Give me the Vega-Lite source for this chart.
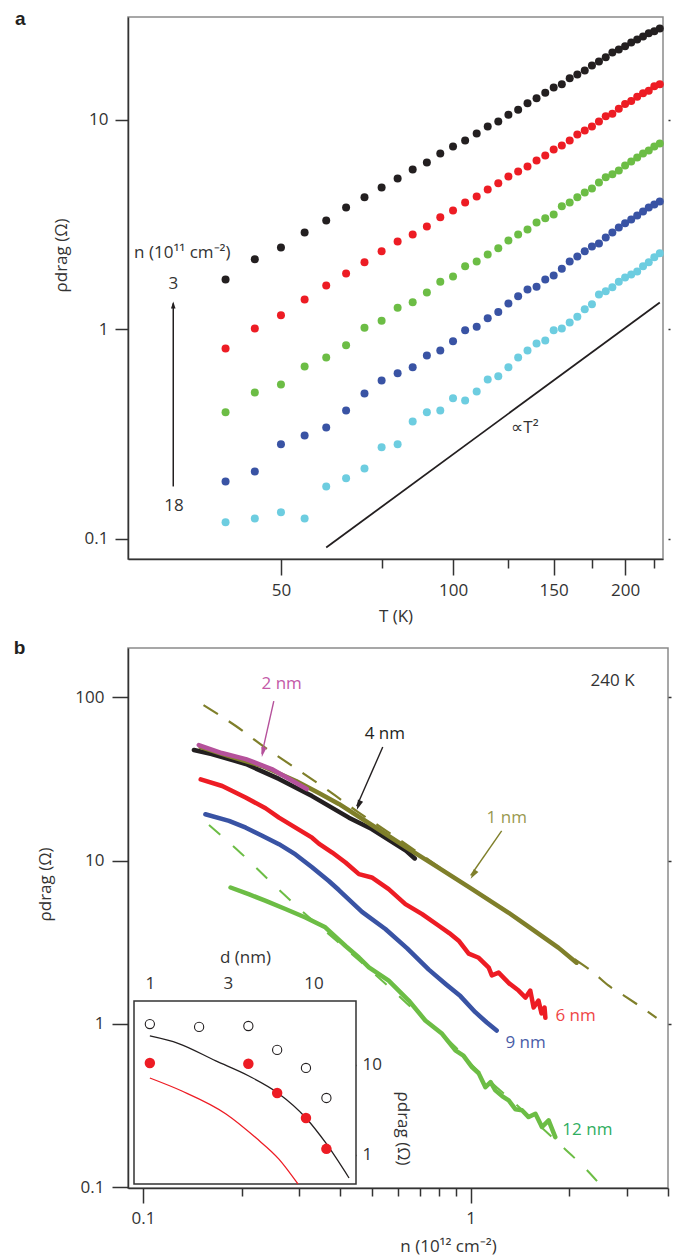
{
  "$schema": "https://vega.github.io/schema/vega-lite/v6.json",
  "background": "white",
  "padding": {"left": 13, "top": 9, "right": 0, "bottom": 0},
  "spacing": 13,
  "config": {
    "font": "Open Sans",
    "view": {"stroke": "#8a8a8a", "strokeWidth": 1.5},
    "axis": {
      "labelFont": "Open Sans", "labelFontSize": 17, "labelColor": "#333333",
      "titleFont": "Open Sans", "titleFontSize": 17, "titleFontWeight": "normal", "titleColor": "#333333",
      "domainColor": "#333333", "domainWidth": 1.5, "tickColor": "#333333", "tickWidth": 1.5,
      "grid": false, "labelOverlap": false, "labelFlush": false, "format": "~g"
    }
  },
  "datasets": {
    "a_points": [
      {"s":"k","T":40,"rho":1.73},{"s":"k","T":45,"rho":2.16},{"s":"k","T":50,"rho":2.46},{"s":"k","T":55,"rho":2.9},{"s":"k","T":60,"rho":3.31},{"s":"k","T":65,"rho":3.82},{"s":"k","T":70,"rho":4.27},{"s":"k","T":75,"rho":4.76},{"s":"k","T":80,"rho":5.26},{"s":"k","T":85,"rho":5.8},{"s":"k","T":90,"rho":6.27},{"s":"k","T":95,"rho":6.92},{"s":"k","T":100,"rho":7.47},{"s":"k","T":105,"rho":7.98},{"s":"k","T":110,"rho":8.62},{"s":"k","T":115,"rho":9.31},{"s":"k","T":120,"rho":9.84},{"s":"k","T":125,"rho":10.6},{"s":"k","T":130,"rho":11.2},{"s":"k","T":135,"rho":12.0},{"s":"k","T":140,"rho":12.7},{"s":"k","T":145,"rho":13.5},{"s":"k","T":150,"rho":14.3},{"s":"k","T":155,"rho":14.8},{"s":"k","T":160,"rho":15.8},{"s":"k","T":165,"rho":16.5},{"s":"k","T":170,"rho":17.2},{"s":"k","T":175,"rho":18.2},{"s":"k","T":180,"rho":19.0},{"s":"k","T":185,"rho":19.9},{"s":"k","T":190,"rho":21.0},{"s":"k","T":195,"rho":21.7},{"s":"k","T":200,"rho":22.5},{"s":"k","T":205,"rho":23.4},{"s":"k","T":210,"rho":24.2},{"s":"k","T":215,"rho":25.0},{"s":"k","T":220,"rho":25.9},{"s":"k","T":225,"rho":26.5},{"s":"k","T":230,"rho":27.3},
      {"s":"r","T":40,"rho":0.81},{"s":"r","T":45,"rho":1.01},{"s":"r","T":50,"rho":1.17},{"s":"r","T":55,"rho":1.39},{"s":"r","T":60,"rho":1.62},{"s":"r","T":65,"rho":1.85},{"s":"r","T":70,"rho":2.09},{"s":"r","T":75,"rho":2.36},{"s":"r","T":80,"rho":2.63},{"s":"r","T":85,"rho":2.84},{"s":"r","T":90,"rho":3.1},{"s":"r","T":95,"rho":3.43},{"s":"r","T":100,"rho":3.7},{"s":"r","T":105,"rho":4.04},{"s":"r","T":110,"rho":4.31},{"s":"r","T":115,"rho":4.66},{"s":"r","T":120,"rho":4.98},{"s":"r","T":125,"rho":5.37},{"s":"r","T":130,"rho":5.68},{"s":"r","T":135,"rho":6.0},{"s":"r","T":140,"rho":6.41},{"s":"r","T":145,"rho":6.77},{"s":"r","T":150,"rho":7.23},{"s":"r","T":155,"rho":7.55},{"s":"r","T":160,"rho":7.98},{"s":"r","T":165,"rho":8.53},{"s":"r","T":170,"rho":8.91},{"s":"r","T":175,"rho":9.31},{"s":"r","T":180,"rho":9.84},{"s":"r","T":185,"rho":10.4},{"s":"r","T":190,"rho":10.7},{"s":"r","T":195,"rho":11.3},{"s":"r","T":200,"rho":11.9},{"s":"r","T":205,"rho":12.3},{"s":"r","T":210,"rho":12.9},{"s":"r","T":215,"rho":13.4},{"s":"r","T":220,"rho":13.8},{"s":"r","T":225,"rho":14.5},{"s":"r","T":230,"rho":14.8},
      {"s":"g","T":40,"rho":0.402},{"s":"g","T":45,"rho":0.5},{"s":"g","T":50,"rho":0.546},{"s":"g","T":55,"rho":0.666},{"s":"g","T":60,"rho":0.735},{"s":"g","T":65,"rho":0.84},{"s":"g","T":70,"rho":1.02},{"s":"g","T":75,"rho":1.1},{"s":"g","T":80,"rho":1.27},{"s":"g","T":85,"rho":1.35},{"s":"g","T":90,"rho":1.5},{"s":"g","T":95,"rho":1.69},{"s":"g","T":100,"rho":1.79},{"s":"g","T":105,"rho":2.0},{"s":"g","T":110,"rho":2.11},{"s":"g","T":115,"rho":2.28},{"s":"g","T":120,"rho":2.44},{"s":"g","T":125,"rho":2.66},{"s":"g","T":130,"rho":2.84},{"s":"g","T":135,"rho":3.0},{"s":"g","T":140,"rho":3.24},{"s":"g","T":145,"rho":3.39},{"s":"g","T":150,"rho":3.54},{"s":"g","T":155,"rho":3.87},{"s":"g","T":160,"rho":4.04},{"s":"g","T":165,"rho":4.27},{"s":"g","T":170,"rho":4.51},{"s":"g","T":175,"rho":4.71},{"s":"g","T":180,"rho":5.03},{"s":"g","T":185,"rho":5.32},{"s":"g","T":190,"rho":5.5},{"s":"g","T":195,"rho":5.74},{"s":"g","T":200,"rho":6.06},{"s":"g","T":205,"rho":6.34},{"s":"g","T":210,"rho":6.62},{"s":"g","T":215,"rho":6.92},{"s":"g","T":220,"rho":7.15},{"s":"g","T":225,"rho":7.47},{"s":"g","T":230,"rho":7.72},
      {"s":"b","T":40,"rho":0.188},{"s":"b","T":45,"rho":0.21},{"s":"b","T":50,"rho":0.283},{"s":"b","T":55,"rho":0.312},{"s":"b","T":60,"rho":0.34},{"s":"b","T":65,"rho":0.41},{"s":"b","T":70,"rho":0.495},{"s":"b","T":75,"rho":0.571},{"s":"b","T":80,"rho":0.617},{"s":"b","T":85,"rho":0.659},{"s":"b","T":90,"rho":0.751},{"s":"b","T":95,"rho":0.794},{"s":"b","T":100,"rho":0.877},{"s":"b","T":105,"rho":0.99},{"s":"b","T":110,"rho":1.03},{"s":"b","T":115,"rho":1.13},{"s":"b","T":120,"rho":1.21},{"s":"b","T":125,"rho":1.33},{"s":"b","T":130,"rho":1.44},{"s":"b","T":135,"rho":1.55},{"s":"b","T":140,"rho":1.6},{"s":"b","T":145,"rho":1.73},{"s":"b","T":150,"rho":1.81},{"s":"b","T":155,"rho":1.95},{"s":"b","T":160,"rho":2.11},{"s":"b","T":165,"rho":2.23},{"s":"b","T":170,"rho":2.36},{"s":"b","T":175,"rho":2.49},{"s":"b","T":180,"rho":2.57},{"s":"b","T":185,"rho":2.75},{"s":"b","T":190,"rho":2.9},{"s":"b","T":195,"rho":3.07},{"s":"b","T":200,"rho":3.21},{"s":"b","T":205,"rho":3.35},{"s":"b","T":210,"rho":3.5},{"s":"b","T":215,"rho":3.66},{"s":"b","T":220,"rho":3.82},{"s":"b","T":225,"rho":3.95},{"s":"b","T":230,"rho":4.08},
      {"s":"c","T":40,"rho":0.12},{"s":"c","T":45,"rho":0.125},{"s":"c","T":50,"rho":0.134},{"s":"c","T":55,"rho":0.125},{"s":"c","T":60,"rho":0.178},{"s":"c","T":65,"rho":0.195},{"s":"c","T":70,"rho":0.217},{"s":"c","T":75,"rho":0.274},{"s":"c","T":80,"rho":0.283},{"s":"c","T":85,"rho":0.364},{"s":"c","T":90,"rho":0.402},{"s":"c","T":95,"rho":0.41},{"s":"c","T":100,"rho":0.469},{"s":"c","T":105,"rho":0.458},{"s":"c","T":110,"rho":0.506},{"s":"c","T":115,"rho":0.577},{"s":"c","T":120,"rho":0.597},{"s":"c","T":125,"rho":0.659},{"s":"c","T":130,"rho":0.735},{"s":"c","T":135,"rho":0.794},{"s":"c","T":140,"rho":0.857},{"s":"c","T":145,"rho":0.886},{"s":"c","T":150,"rho":0.99},{"s":"c","T":155,"rho":1.01},{"s":"c","T":160,"rho":1.08},{"s":"c","T":165,"rho":1.15},{"s":"c","T":170,"rho":1.25},{"s":"c","T":175,"rho":1.32},{"s":"c","T":180,"rho":1.47},{"s":"c","T":185,"rho":1.52},{"s":"c","T":190,"rho":1.59},{"s":"c","T":195,"rho":1.69},{"s":"c","T":200,"rho":1.77},{"s":"c","T":205,"rho":1.83},{"s":"c","T":210,"rho":1.89},{"s":"c","T":215,"rho":2.0},{"s":"c","T":220,"rho":2.09},{"s":"c","T":225,"rho":2.21},{"s":"c","T":230,"rho":2.31}
    ],
    "a_line": [{"T":60,"rho":0.091},{"T":230,"rho":1.345}],
    "a_text": [
      {"T":33.6,"rho":2.31,"t":"n (10¹¹ cm⁻²)"},
      {"T":32.4,"rho":1.64,"t":"3"},
      {"T":32.5,"rho":0.143,"t":"18"},
      {"T":133.6,"rho":0.34,"t":"∝T²"}
    ],
    "a_arrow": [{"T":32.4,"rho":0.178,"rho2":1.33}],
    "a_head": [{"T":32.4,"rho":1.309}],
    "b_curves": [
      {"d":"4 nm","n":0.143,"rho":47.5},{"d":"4 nm","n":0.162,"rho":44.9},{"d":"4 nm","n":0.206,"rho":39.0},{"d":"4 nm","n":0.26,"rho":31.6},{"d":"4 nm","n":0.328,"rho":24.8},{"d":"4 nm","n":0.425,"rho":18.3},{"d":"4 nm","n":0.499,"rho":15.6},{"d":"4 nm","n":0.634,"rho":11.5},{"d":"4 nm","n":0.675,"rho":10.3},
      {"d":"1 nm","n":0.15,"rho":49.5},{"d":"1 nm","n":0.183,"rho":43.6},{"d":"1 nm","n":0.231,"rho":37.9},{"d":"1 nm","n":0.293,"rho":30.7},{"d":"1 nm","n":0.344,"rho":25.9},{"d":"1 nm","n":0.396,"rho":22.2},{"d":"1 nm","n":0.499,"rho":16.5},{"d":"1 nm","n":0.634,"rho":12.1},{"d":"1 nm","n":0.799,"rho":9.03},{"d":"1 nm","n":1.007,"rho":6.71},{"d":"1 nm","n":1.306,"rho":4.79},{"d":"1 nm","n":1.471,"rho":4.05},{"d":"1 nm","n":1.855,"rho":2.92},{"d":"1 nm","n":2.104,"rho":2.37},
      {"d":"6 nm","n":0.15,"rho":31.4},{"d":"6 nm","n":0.1745,"rho":28.6},{"d":"6 nm","n":0.2056,"rho":24.3},{"d":"6 nm","n":0.2366,"rho":20.9},{"d":"6 nm","n":0.26,"rho":18.3},{"d":"6 nm","n":0.292,"rho":15.9},{"d":"6 nm","n":0.328,"rho":13.8},{"d":"6 nm","n":0.344,"rho":12.7},{"d":"6 nm","n":0.378,"rho":11.2},{"d":"6 nm","n":0.415,"rho":9.72},{"d":"6 nm","n":0.456,"rho":8.26},{"d":"6 nm","n":0.499,"rho":7.88},{"d":"6 nm","n":0.562,"rho":6.69},{"d":"6 nm","n":0.632,"rho":5.41},{"d":"6 nm","n":0.711,"rho":4.7},{"d":"6 nm","n":0.799,"rho":3.99},{"d":"6 nm","n":0.86,"rho":3.6},{"d":"6 nm","n":0.919,"rho":3.23},{"d":"6 nm","n":0.986,"rho":2.69},{"d":"6 nm","n":1.058,"rho":2.54},{"d":"6 nm","n":1.135,"rho":2.21},{"d":"6 nm","n":1.16,"rho":1.98},{"d":"6 nm","n":1.217,"rho":2.06},{"d":"6 nm","n":1.31,"rho":1.77},{"d":"6 nm","n":1.4,"rho":1.6},{"d":"6 nm","n":1.47,"rho":1.45},{"d":"6 nm","n":1.52,"rho":1.6},{"d":"6 nm","n":1.556,"rho":1.26},{"d":"6 nm","n":1.61,"rho":1.39},{"d":"6 nm","n":1.645,"rho":1.16},{"d":"6 nm","n":1.68,"rho":1.26},{"d":"6 nm","n":1.69,"rho":1.09},
      {"d":"9 nm","n":0.155,"rho":19.2},{"d":"9 nm","n":0.183,"rho":17.5},{"d":"9 nm","n":0.206,"rho":15.9},{"d":"9 nm","n":0.231,"rho":14.2},{"d":"9 nm","n":0.26,"rho":12.6},{"d":"9 nm","n":0.292,"rho":10.9},{"d":"9 nm","n":0.328,"rho":9.1},{"d":"9 nm","n":0.369,"rho":7.5},{"d":"9 nm","n":0.396,"rho":6.6},{"d":"9 nm","n":0.466,"rho":4.85},{"d":"9 nm","n":0.549,"rho":3.81},{"d":"9 nm","n":0.64,"rho":2.9},{"d":"9 nm","n":0.745,"rho":2.15},{"d":"9 nm","n":0.84,"rho":1.75},{"d":"9 nm","n":0.93,"rho":1.48},{"d":"9 nm","n":1.033,"rho":1.18},{"d":"9 nm","n":1.12,"rho":1.02},{"d":"9 nm","n":1.2,"rho":0.91},
      {"d":"12 nm","n":0.185,"rho":6.84},{"d":"12 nm","n":0.211,"rho":6.2},{"d":"12 nm","n":0.237,"rho":5.67},{"d":"12 nm","n":0.272,"rho":5.05},{"d":"12 nm","n":0.313,"rho":4.48},{"d":"12 nm","n":0.36,"rho":3.9},{"d":"12 nm","n":0.415,"rho":3.0},{"d":"12 nm","n":0.456,"rho":2.55},{"d":"12 nm","n":0.489,"rho":2.22},{"d":"12 nm","n":0.562,"rho":1.84},{"d":"12 nm","n":0.647,"rho":1.39},{"d":"12 nm","n":0.727,"rho":1.05},{"d":"12 nm","n":0.818,"rho":0.87},{"d":"12 nm","n":0.898,"rho":0.688},{"d":"12 nm","n":0.95,"rho":0.64},{"d":"12 nm","n":1.009,"rho":0.544},{"d":"12 nm","n":1.058,"rho":0.498},{"d":"12 nm","n":1.109,"rho":0.41},{"d":"12 nm","n":1.15,"rho":0.44},{"d":"12 nm","n":1.189,"rho":0.392},{"d":"12 nm","n":1.25,"rho":0.36},{"d":"12 nm","n":1.306,"rho":0.34},{"d":"12 nm","n":1.37,"rho":0.3},{"d":"12 nm","n":1.434,"rho":0.296},{"d":"12 nm","n":1.502,"rho":0.269},{"d":"12 nm","n":1.576,"rho":0.282},{"d":"12 nm","n":1.65,"rho":0.234},{"d":"12 nm","n":1.729,"rho":0.257},{"d":"12 nm","n":1.812,"rho":0.203}
    ],
    "b_mag": [{"n":0.148,"rho":50.9},{"n":0.174,"rho":45.5},{"n":0.206,"rho":41.8},{"n":0.247,"rho":36.3},{"n":0.316,"rho":27.4}],
    "b_olive_th": [{"n":0.153,"rho":89.4},{"n":0.192,"rho":66.6},{"n":0.237,"rho":48.8},{"n":0.295,"rho":36.3},{"n":0.369,"rho":26.7},{"n":0.45,"rho":20.0},{"n":0.55,"rho":15.3},{"n":0.7,"rho":11.0},{"n":0.85,"rho":8.4},{"n":1.0,"rho":6.8},{"n":1.2,"rho":5.4},{"n":1.5,"rho":3.95},{"n":1.8,"rho":3.05},{"n":2.1,"rho":2.45},{"n":2.37,"rho":2.06},{"n":2.63,"rho":1.72},{"n":3.0,"rho":1.45},{"n":3.69,"rho":1.09}],
    "b_green_th": [{"n":0.159,"rho":16.5},{"n":0.199,"rho":11.1},{"n":0.247,"rho":7.31},{"n":0.305,"rho":4.93},{"n":0.36,"rho":3.7},{"n":0.456,"rho":2.45},{"n":0.56,"rho":1.7},{"n":0.727,"rho":1.05},{"n":0.9,"rho":0.72},{"n":1.009,"rho":0.56},{"n":1.2,"rho":0.41},{"n":1.5,"rho":0.275},{"n":1.81,"rho":0.195},{"n":1.96,"rho":0.168},{"n":2.2,"rho":0.135},{"n":2.46,"rho":0.106}],
    "b_text": [
      {"n":0.265,"rho":120,"t":"2 nm"},{"n":0.547,"rho":59.4,"t":"4 nm"},{"n":1.288,"rho":18.2,"t":"1 nm"},{"n":2.71,"rho":125,"t":"240 K"},{"n":2.09,"rho":1.125,"t":"6 nm"},{"n":1.47,"rho":0.759,"t":"9 nm"},{"n":2.27,"rho":0.2234,"t":"12 nm"}
    ],
    "b_arrows": [
      {"a":"m","n":0.2507,"rho":94.5,"n2":0.2306,"rho2":45.0},
      {"a":"k","n":0.539,"rho":49.5,"n2":0.449,"rho2":21.5},
      {"a":"o","n":1.243,"rho":15.2,"n2":1.0,"rho2":8.1}
    ],
    "b_heads": [{"a":"m","n":0.2322,"rho":46.1},{"a":"k","n":0.455,"rho":21.8},{"a":"o","n":1.019,"rho":8.2}],
    "inset_box": [{"d1":0.8,"d2":18.2,"r1":0.476,"r2":51.4}],
    "inset_pts": [
      {"k":"open","d":1,"rho":28.5},{"k":"open","d":2,"rho":26.5},{"k":"open","d":4,"rho":27.1},{"k":"open","d":6,"rho":14.7},{"k":"open","d":9,"rho":9.27},{"k":"open","d":12,"rho":4.3},
      {"k":"filled","d":1,"rho":10.5},{"k":"filled","d":4,"rho":10.3},{"k":"filled","d":6,"rho":4.89},{"k":"filled","d":9,"rho":2.58},{"k":"filled","d":12,"rho":1.17}
    ],
    "inset_curves": [
      {"k":"open","d":1,"rho":21.0},{"k":"open","d":1.5,"rho":17.3},{"k":"open","d":2.53,"rho":11.1},{"k":"open","d":4.03,"rho":7.55},{"k":"open","d":6.06,"rho":4.89},{"k":"open","d":9.0,"rho":2.58},{"k":"open","d":11.9,"rho":1.36},{"k":"open","d":16.5,"rho":0.555},
      {"k":"filled","d":1,"rho":7.17},{"k":"filled","d":1.57,"rho":5.14},{"k":"filled","d":2.92,"rho":2.86},{"k":"filled","d":4.45,"rho":1.55},{"k":"filled","d":6.15,"rho":0.9},{"k":"filled","d":8.04,"rho":0.476}
    ]
  },
  "vconcat": [
    {
      "width": 535, "height": 542,
      "title": {"text": "a", "anchor": "start", "dx": -37, "offset": -27, "baseline": "alphabetic", "fontSize": 19, "font": "Liberation Sans", "fontWeight": "bold", "color": "#231f20"},
      "resolve": {"scale": {"x": "independent", "y": "independent"}},
      "layer": [
        {
          "layer": [
            {
              "data": {"name": "a_points"},
              "mark": {"type": "point", "filled": true, "size": 64, "opacity": 1, "shape": "circle"},
              "encoding": {
                "x": {"field": "T", "type": "quantitative", "scale": {"type": "log", "domain": [27, 233], "nice": false},
                      "axis": {"values": [50, 100, 150, 200], "tickSize": 16, "labelPadding": 7, "title": "T (K)", "titlePadding": 10}},
                "y": {"field": "rho", "type": "quantitative", "scale": {"type": "log", "domain": [0.0802, 31], "nice": false},
                      "axis": {"values": [0.1, 1, 10], "tickSize": 13, "labelPadding": 7, "title": "ρdrag (Ω)", "titleY": 238, "titlePadding": 14}},
                "color": {"field": "s", "type": "nominal", "scale": {"domain": ["k", "r", "g", "b", "c"], "range": ["#231f20", "#ed1c24", "#6cbd45", "#3953a4", "#6dcde0"]}, "legend": null}
              }
            },
            {
              "data": {"name": "a_text"},
              "mark": {"type": "text", "fontSize": 17, "font": "Open Sans", "color": "#333333"},
              "encoding": {
                "x": {"field": "T", "type": "quantitative", "scale": {"type": "log", "domain": [27, 233], "nice": false}},
                "y": {"field": "rho", "type": "quantitative", "scale": {"type": "log", "domain": [0.0802, 31], "nice": false}},
                "text": {"field": "t"}
              }
            },
            {
              "data": {"name": "a_arrow"},
              "mark": {"type": "rule", "color": "#231f20", "strokeWidth": 1.5},
              "encoding": {
                "x": {"field": "T", "type": "quantitative", "scale": {"type": "log", "domain": [27, 233], "nice": false}},
                "y": {"field": "rho", "type": "quantitative", "scale": {"type": "log", "domain": [0.0802, 31], "nice": false}},
                "y2": {"field": "rho2"}
              }
            },
            {
              "data": {"name": "a_head"},
              "mark": {"type": "point", "shape": "M0,-1L0.65,1L-0.65,1Z", "filled": true, "size": 49, "color": "#231f20", "opacity": 1},
              "encoding": {
                "x": {"field": "T", "type": "quantitative", "scale": {"type": "log", "domain": [27, 233], "nice": false}},
                "y": {"field": "rho", "type": "quantitative", "scale": {"type": "log", "domain": [0.0802, 31], "nice": false}}
              }
            }
          ]
        },
        {
          "data": {"name": "a_line"},
          "mark": {"type": "line", "color": "#231f20", "strokeWidth": 1.8},
          "encoding": {
            "x": {"field": "T", "type": "quantitative", "scale": {"type": "log", "domain": [27, 233], "nice": false},
                  "axis": {"orient": "bottom", "values": [75, 125, 175, 225], "tickSize": 9, "labels": false, "domain": false, "title": null}},
            "y": {"field": "rho", "type": "quantitative", "scale": {"type": "log", "domain": [0.0802, 31], "nice": false},
                  "axis": {"orient": "right", "values": [0.1, 1, 10], "tickSize": 2, "offset": 5, "labels": false, "domain": false, "title": null}}
          }
        }
      ]
    },
    {
      "width": 540, "height": 540,
      "title": {"text": "b", "anchor": "start", "dx": -23, "offset": -25, "baseline": "alphabetic", "fontSize": 19, "font": "Liberation Sans", "fontWeight": "bold", "color": "#231f20"},
      "resolve": {"scale": {"x": "independent", "y": "independent"}},
      "layer": [
        {
          "resolve": {"scale": {"color": "independent"}},
          "layer": [
            {
              "data": {"name": "b_olive_th"},
              "mark": {"type": "line", "color": "#7f7f2a", "strokeWidth": 2.2, "strokeDash": [17, 13], "interpolate": "monotone"},
              "encoding": {
                "x": {"field": "n", "type": "quantitative", "scale": {"type": "log", "domain": [0.09, 4], "nice": false},
                      "axis": {"values": [0.1, 1], "tickSize": 15, "labelPadding": 7, "title": "n (10¹² cm⁻²)", "titleX": 320, "titlePadding": 12}},
                "y": {"field": "rho", "type": "quantitative", "scale": {"type": "log", "domain": [0.099, 200], "nice": false},
                      "axis": {"values": [0.1, 1, 10, 100], "tickSize": 16, "labelPadding": 8, "title": "ρdrag (Ω)", "titleY": 236, "titlePadding": 20}}
              }
            },
            {
              "data": {"name": "b_curves"},
              "mark": {"type": "line", "strokeWidth": 4.5, "strokeCap": "round", "strokeJoin": "round"},
              "encoding": {
                "x": {"field": "n", "type": "quantitative", "scale": {"type": "log", "domain": [0.09, 4], "nice": false}},
                "y": {"field": "rho", "type": "quantitative", "scale": {"type": "log", "domain": [0.099, 200], "nice": false}},
                "color": {"field": "d", "type": "nominal", "scale": {"domain": ["4 nm", "1 nm", "6 nm", "9 nm", "12 nm"], "range": ["#231f20", "#7f7f2a", "#ed1c24", "#3953a4", "#6cbd45"]}, "legend": null}
              }
            },
            {
              "data": {"name": "b_mag"},
              "mark": {"type": "line", "strokeWidth": 4.5, "strokeCap": "round", "strokeJoin": "round", "color": "#b5519b"},
              "encoding": {
                "x": {"field": "n", "type": "quantitative", "scale": {"type": "log", "domain": [0.09, 4], "nice": false}},
                "y": {"field": "rho", "type": "quantitative", "scale": {"type": "log", "domain": [0.099, 200], "nice": false}}
              }
            },
            {
              "data": {"name": "b_text"},
              "mark": {"type": "text", "fontSize": 17, "font": "Open Sans"},
              "encoding": {
                "x": {"field": "n", "type": "quantitative", "scale": {"type": "log", "domain": [0.09, 4], "nice": false}},
                "y": {"field": "rho", "type": "quantitative", "scale": {"type": "log", "domain": [0.099, 200], "nice": false}},
                "text": {"field": "t"},
                "color": {"field": "t", "type": "nominal", "scale": {"domain": ["2 nm", "4 nm", "1 nm", "240 K", "6 nm", "9 nm", "12 nm"], "range": ["#c45aa8", "#231f20", "#999950", "#333333", "#ef4646", "#4a5da8", "#2fae5f"]}, "legend": null}
              }
            },
            {
              "data": {"name": "b_arrows"},
              "mark": {"type": "rule", "strokeWidth": 1.4},
              "encoding": {
                "x": {"field": "n", "type": "quantitative", "scale": {"type": "log", "domain": [0.09, 4], "nice": false}},
                "y": {"field": "rho", "type": "quantitative", "scale": {"type": "log", "domain": [0.099, 200], "nice": false}},
                "x2": {"field": "n2"},
                "y2": {"field": "rho2"},
                "color": {"field": "a", "type": "nominal", "scale": {"domain": ["m", "k", "o"], "range": ["#b5519b", "#231f20", "#7f7f2a"]}, "legend": null}
              }
            },
            {
              "data": {"name": "b_heads"},
              "transform": [{"filter": "datum.a == 'm'"}],
              "mark": {"type": "point", "shape": "M0,-1L0.55,1L-0.55,1Z", "filled": true, "size": 100, "color": "#b5519b", "opacity": 1, "angle": 192},
              "encoding": {
                "x": {"field": "n", "type": "quantitative", "scale": {"type": "log", "domain": [0.09, 4], "nice": false}},
                "y": {"field": "rho", "type": "quantitative", "scale": {"type": "log", "domain": [0.099, 200], "nice": false}}
              }
            },
            {
              "data": {"name": "b_heads"},
              "transform": [{"filter": "datum.a == 'k'"}],
              "mark": {"type": "point", "shape": "M0,-1L0.55,1L-0.55,1Z", "filled": true, "size": 100, "color": "#231f20", "opacity": 1, "angle": 202},
              "encoding": {
                "x": {"field": "n", "type": "quantitative", "scale": {"type": "log", "domain": [0.09, 4], "nice": false}},
                "y": {"field": "rho", "type": "quantitative", "scale": {"type": "log", "domain": [0.099, 200], "nice": false}}
              }
            },
            {
              "data": {"name": "b_heads"},
              "transform": [{"filter": "datum.a == 'o'"}],
              "mark": {"type": "point", "shape": "M0,-1L0.55,1L-0.55,1Z", "filled": true, "size": 100, "color": "#7f7f2a", "opacity": 1, "angle": 213},
              "encoding": {
                "x": {"field": "n", "type": "quantitative", "scale": {"type": "log", "domain": [0.09, 4], "nice": false}},
                "y": {"field": "rho", "type": "quantitative", "scale": {"type": "log", "domain": [0.099, 200], "nice": false}}
              }
            }
          ]
        },
        {
          "data": {"name": "b_green_th"},
          "mark": {"type": "line", "color": "#6cbd45", "strokeWidth": 2, "strokeDash": [15, 17], "interpolate": "monotone"},
          "encoding": {
            "x": {"field": "n", "type": "quantitative", "scale": {"type": "log", "domain": [0.09, 4], "nice": false},
                  "axis": {"orient": "bottom", "values": [0.2, 0.3, 0.4, 0.5, 0.6, 0.7, 0.8, 0.9, 2, 3, 4], "tickSize": 8, "labels": false, "domain": false, "title": null}},
            "y": {"field": "rho", "type": "quantitative", "scale": {"type": "log", "domain": [0.099, 200], "nice": false},
                  "axis": {"orient": "right", "values": [1, 10, 100], "tickSize": 3, "labels": false, "domain": false, "title": null}}
          }
        },
        {
          "layer": [
            {
              "data": {"name": "inset_box"},
              "mark": {"type": "rect", "fill": "white", "stroke": "#333333", "strokeWidth": 1.5},
              "encoding": {
                "x": {"field": "d1", "type": "quantitative", "scale": {"type": "log", "domain": [0.8, 18.2], "range": [6, 228], "nice": false},
                      "axis": {"orient": "top", "offset": -353, "values": [1, 3, 10], "tickSize": -7, "labelPadding": 16, "domain": false, "title": "d (nm)", "titlePadding": 8}},
                "x2": {"field": "d2"},
                "y": {"field": "r1", "type": "quantitative", "scale": {"type": "log", "domain": [0.476, 51.4], "range": [536, 353], "nice": false},
                      "axis": {"orient": "right", "offset": -312, "values": [1, 10], "tickSize": -7, "labelPadding": 13, "domain": false, "title": "ρdrag (Ω)", "titleY": 480, "titlePadding": 12}},
                "y2": {"field": "r2"}
              }
            },
            {
              "data": {"name": "inset_curves"},
              "mark": {"type": "line", "strokeWidth": 1.3, "interpolate": "monotone"},
              "encoding": {
                "x": {"field": "d", "type": "quantitative", "scale": {"type": "log", "domain": [0.8, 18.2], "range": [6, 228], "nice": false}},
                "y": {"field": "rho", "type": "quantitative", "scale": {"type": "log", "domain": [0.476, 51.4], "range": [536, 353], "nice": false}},
                "color": {"field": "k", "type": "nominal", "scale": {"domain": ["open", "filled"], "range": ["#231f20", "#ed1c24"]}, "legend": null}
              }
            },
            {
              "data": {"name": "inset_pts"},
              "transform": [{"filter": "datum.k == 'open'"}],
              "mark": {"type": "point", "shape": "circle", "filled": false, "size": 85, "strokeWidth": 1.1, "color": "#231f20", "opacity": 1},
              "encoding": {
                "x": {"field": "d", "type": "quantitative", "scale": {"type": "log", "domain": [0.8, 18.2], "range": [6, 228], "nice": false}},
                "y": {"field": "rho", "type": "quantitative", "scale": {"type": "log", "domain": [0.476, 51.4], "range": [536, 353], "nice": false}}
              }
            },
            {
              "data": {"name": "inset_pts"},
              "transform": [{"filter": "datum.k == 'filled'"}],
              "mark": {"type": "circle", "size": 110, "color": "#ed1c24", "opacity": 1},
              "encoding": {
                "x": {"field": "d", "type": "quantitative", "scale": {"type": "log", "domain": [0.8, 18.2], "range": [6, 228], "nice": false}},
                "y": {"field": "rho", "type": "quantitative", "scale": {"type": "log", "domain": [0.476, 51.4], "range": [536, 353], "nice": false}}
              }
            }
          ]
        }
      ]
    }
  ]
}
